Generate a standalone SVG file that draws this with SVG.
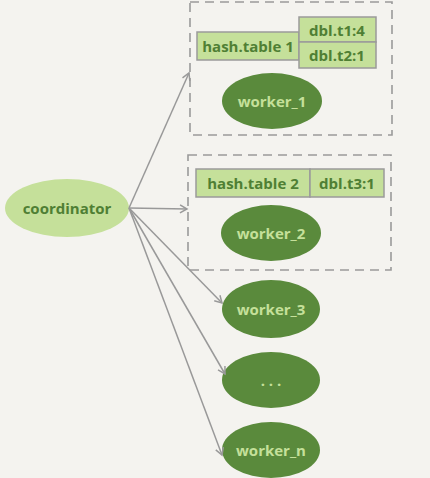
<svg xmlns="http://www.w3.org/2000/svg" width="430" height="478" viewBox="0 0 430 478">
<style>
.bg{fill:#f4f3ef}
.box{fill:none;stroke:#9a9a9a;stroke-width:1.6;stroke-dasharray:9 6}
.cell{fill:#c5e09a;stroke:#9a9a9a;stroke-width:1.5}
.wk{fill:#5a8a3c}
.co{fill:#c5e09a}
.t{font-family:"Open Sans","DejaVu Sans",sans-serif;font-weight:bold;font-size:15px;text-anchor:middle;dominant-baseline:central}
.tl{fill:#c5e09a}
.td{fill:#4f7f34}
.ed{stroke:#999;stroke-width:1.5;fill:none;marker-end:url(#ah)}
</style>
<defs>
<marker id="ah" markerWidth="10" markerHeight="10" refX="8" refY="5" orient="auto" markerUnits="userSpaceOnUse">
<path d="M1,1 L8,5 L1,9" fill="none" stroke="#999" stroke-width="1.5"/>
</marker>
</defs>
<rect class="bg" width="430" height="478"/>
<g id="group1">
<rect class="box" x="190" y="2" width="202" height="133"/>
</g>
<g id="group2">
<rect class="box" x="188" y="155" width="203" height="115"/>
</g>
<g id="hashtable1">
<rect class="cell" x="197" y="32" width="102" height="28"/>
<text class="t td" x="248" y="46">hash.table 1</text>
</g>
<g id="dbl_t1">
<rect class="cell" x="299" y="17" width="77" height="25"/>
<text class="t td" x="337" y="30">dbl.t1:4</text>
</g>
<g id="dbl_t2">
<rect class="cell" x="299" y="42" width="77" height="26"/>
<text class="t td" x="337" y="55">dbl.t2:1</text>
</g>
<g id="worker_1">
<ellipse class="wk" cx="272" cy="101" rx="50" ry="28"/>
<text class="t tl" x="272" y="101">worker_1</text>
</g>
<g id="hashtable2">
<rect class="cell" x="196" y="169" width="114" height="28"/>
<text class="t td" x="253" y="183">hash.table 2</text>
</g>
<g id="dbl_t3">
<rect class="cell" x="310" y="169" width="74" height="28"/>
<text class="t td" x="347" y="183">dbl.t3:1</text>
</g>
<g id="worker_2">
<ellipse class="wk" cx="271" cy="233" rx="50" ry="28"/>
<text class="t tl" x="271" y="233">worker_2</text>
</g>
<g id="coordinator">
<ellipse class="co" cx="67" cy="208" rx="62" ry="29"/>
<text class="t td" x="67" y="208">coordinator</text>
</g>
<g id="worker_3">
<ellipse class="wk" cx="271" cy="309" rx="49" ry="29"/>
<text class="t tl" x="271" y="309">worker_3</text>
</g>
<g id="worker_dots">
<ellipse class="wk" cx="271" cy="380" rx="49" ry="28"/>
<text class="t tl" x="271" y="380">. . .</text>
</g>
<g id="worker_n">
<ellipse class="wk" cx="271" cy="450" rx="49" ry="28"/>
<text class="t tl" x="271" y="450">worker_n</text>
</g>
<g id="connectors">
<line class="ed" x1="129" y1="208" x2="189" y2="73"/>
<line class="ed" x1="129" y1="208" x2="187" y2="209"/>
<line class="ed" x1="129" y1="208" x2="222" y2="303"/>
<line class="ed" x1="129" y1="208" x2="225" y2="374"/>
<line class="ed" x1="129" y1="208" x2="222" y2="455"/>
</g>
</svg>
